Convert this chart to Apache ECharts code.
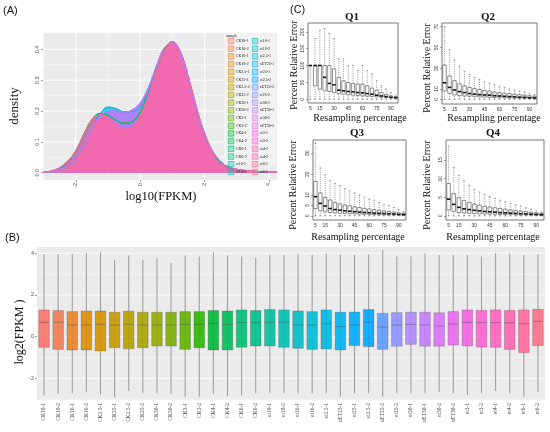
<!DOCTYPE html>
<html>
<head>
<meta charset="utf-8">
<script src="https://cdn.jsdelivr.net/npm/echarts@6/dist/echarts.min.js"></script>
<style>
html, body { margin: 0; padding: 0; background: #fff; }
#chart { width: 550px; height: 432px; }
</style>
</head>
<body>
<div id="chart"></div>
<script>
// samples, in factor order (legend in A, x axis in B)
var samples = ['CK10-1','CK10-2','CK16-1','CK16-2','CK2.5-1','CK25-1','CK2.5-2','CK25-2','CK30-1','CK30-2',
  'CK3-1','CK3-2','CK4-1','CK4-2','CK6-1','CK6-2','et10-1','et10-2','et16-1','et16-2','et2.5-1','xET25-1',
  'et25-1','et2.5-2','xET25-2','et25-2','et30-1','xET30-1','et30-2','xET30-2','et3-1','et3-2','et4-1','et4-2',
  'et6-1','et6-2'];

// (A) density of log10(FPKM)
var densX = [-3, -2.75, -2.5, -2.25, -2, -1.75, -1.5, -1.25, -1, -0.75, -0.5, -0.25, 0, 0.25, 0.5, 0.75,
  1, 1.25, 1.5, 1.75, 2, 2.25, 2.5, 2.75, 3, 3.5, 4, 4.25];
var densCK = [0.001, 0.005, 0.015, 0.035, 0.07, 0.124, 0.172, 0.192, 0.186, 0.17, 0.16, 0.165, 0.196, 0.256,
  0.33, 0.396, 0.422, 0.39, 0.306, 0.208, 0.125, 0.068, 0.035, 0.018, 0.01, 0.004, 0.002, 0.001];
var densCyan = [0.001, 0.003, 0.009, 0.022, 0.048, 0.092, 0.148, 0.19, 0.213, 0.208, 0.198, 0.198, 0.215, 0.262,
  0.334, 0.402, 0.425, 0.388, 0.3, 0.2, 0.12, 0.066, 0.034, 0.017, 0.01, 0.004, 0.002, 0.001];
var densPurple = [0.001, 0.003, 0.01, 0.024, 0.05, 0.095, 0.148, 0.182, 0.198, 0.2, 0.197, 0.203, 0.226, 0.274,
  0.345, 0.405, 0.42, 0.382, 0.298, 0.2, 0.122, 0.068, 0.036, 0.019, 0.011, 0.005, 0.002, 0.001];
var densEt = [0.002, 0.006, 0.017, 0.038, 0.072, 0.125, 0.172, 0.188, 0.178, 0.158, 0.142, 0.148, 0.185, 0.25,
  0.33, 0.398, 0.425, 0.392, 0.31, 0.212, 0.128, 0.07, 0.036, 0.019, 0.011, 0.005, 0.002, 0.001];
var densGroup = ['ck','ck','ck','ck','ck','ck','ck','ck','ck','ck','ck','ck','ck','ck','ck','ck','ck','ck',
  'cyan','cyan','cyan','cyan','purple','purple','purple','purple','purple','purple','purple','purple',
  'et','et','et','et','et','et'];
var densXTicks = [-2, 0, 2, 4];
var densXMinor = [-3, -1, 1, 3];
var densYTicks = [0, 0.1, 0.2, 0.3, 0.4];
var densYMinor = [0.05, 0.15, 0.25, 0.35];

// (B) log2(FPKM) boxplots
var bMin = [-2.83,-2.75,-2.72,-2.67,-2.77,-2.91,-2.61,-2.72,-2.72,-2.75,-2.88,-2.88,-2.75,-2.85,-2.83,-2.72,-2.69,
  -2.72,-2.72,-2.72,-2.72,-2.88,-2.72,-2.72,-2.88,-2.72,-2.72,-2.72,-2.64,-2.72,-2.8,-2.72,-2.61,-2.72,-2.88,-2.64];
var bQ1 = [-0.51,-0.61,-0.64,-0.64,-0.69,-0.53,-0.58,-0.53,-0.45,-0.45,-0.61,-0.54,-0.64,-0.64,-0.51,-0.45,-0.45,
  -0.51,-0.56,-0.61,-0.59,-0.64,-0.43,-0.48,-0.61,-0.46,-0.37,-0.46,-0.46,-0.4,-0.45,-0.5,-0.51,-0.61,-0.77,-0.43];
var bMed = [0.69,0.69,0.56,0.56,0.59,0.56,0.59,0.56,0.56,0.56,0.59,0.59,0.64,0.59,0.67,0.67,0.69,
  0.69,0.56,0.56,0.62,0.48,0.56,0.69,0.46,0.56,0.59,0.56,0.51,0.61,0.69,0.67,0.67,0.66,0.62,0.74];
var bQ3 = [1.28,1.25,1.2,1.23,1.23,1.17,1.22,1.17,1.17,1.17,1.2,1.2,1.25,1.23,1.28,1.25,1.3,
  1.28,1.23,1.2,1.28,1.17,1.18,1.3,1.12,1.15,1.17,1.17,1.14,1.2,1.28,1.26,1.28,1.26,1.28,1.31];
var bMax = [3.97,3.97,3.97,4.03,4.05,3.68,3.89,3.68,3.76,3.55,3.89,3.84,4.05,3.89,3.84,3.79,3.92,
  3.92,4.0,3.92,4.0,3.95,3.92,3.95,4.16,3.84,3.84,4.0,3.92,3.92,3.92,3.84,4.0,4.0,3.92,3.95];
var bYTicks = [-2, 0, 2, 4];
var bYMinor = [-3, -1, 1, 3];

// (C) percent relative error vs resampling percentage: [min, q1, median, q3, max]
var resampPct = [5, 10, 15, 20, 25, 30, 35, 40, 45, 50, 55, 60, 65, 70, 75, 80, 85, 90, 95];
var pctLabels = [5, 15, 30, 45, 60, 75, 90];
var q1Stats = [[0,100,100,100,100],[0,40,100,100,180],[0,30,100,100,205],[0,25,65,100,210],[0,23,47,100,195],
  [0,20,43,90,180],[0,17,27,65,120],[0,15,25,55,120],[0,13,23,50,100],[0,12,22,47,100],[0,11,20,45,85],
  [0,10,19,45,100],[0,9,17,40,85],[0,8,15,33,75],[0,7,12,27,55],[0,6,10,20,40],[0,5,8,15,30],[0,4,6,10,20],[0,3,5,7,13]];
var q2Stats = [[0,8,16,33,70],[0,5.8,11.5,22.5,48],[0,4.2,9,18,38],[0,3.6,7.5,15,32],[0,3.2,6.5,13,27],
  [0,2.9,5.6,11.5,24],[0,2.6,5,10.5,21],[0,2.3,4.5,9.5,19],[0,2.1,4.2,8.5,17],[0,1.9,3.9,8,15.5],[0,1.7,3.5,7,14],
  [0,1.5,3.2,6.5,12.5],[0,1.4,2.9,6,11.5],[0,1.2,2.6,5.5,10],[0,1.1,2.4,5,9],[0,1,2.1,4.5,8],[0,0.9,1.9,4,7],
  [0,0.8,1.6,3.5,5.5],[0,0.6,1.4,3,4.5]];
var q3Stats = [[0,3.5,9.2,16.5,35],[0,2.4,6,11,23],[0,1.9,4.7,8.9,19.7],[0,1.6,3.5,7.6,17],[0,1.4,3,6.5,15.5],
  [0,1.2,2.7,5.8,14.5],[0,1.1,2.4,5.2,13],[0,1,2.2,4.8,12],[0,0.9,2,4.3,11],[0,0.8,1.8,4,10],[0,0.7,1.6,3.6,9],
  [0,0.65,1.5,3.3,8],[0,0.6,1.3,3,7.5],[0,0.5,1.2,2.7,6.5],[0,0.45,1.1,2.4,5.5],[0,0.4,1,2.1,5],[0,0.35,0.85,1.8,4],
  [0,0.3,0.7,1.5,3],[0,0.25,0.6,1.2,2]];
var q4Stats = [[0,1.6,4.5,8.7,18.8],[0,1.2,3.1,6,13],[0,0.9,2.3,4.9,10.9],[0,0.8,1.9,4.1,9.5],[0,0.7,1.7,3.6,8.2],
  [0,0.6,1.5,3.2,7.2],[0,0.55,1.35,2.9,6.4],[0,0.5,1.2,2.6,5.8],[0,0.45,1.1,2.4,5.2],[0,0.4,1,2.2,4.7],
  [0,0.38,0.9,2,4.2],[0,0.35,0.82,1.8,3.8],[0,0.32,0.75,1.6,3.4],[0,0.3,0.68,1.45,3],[0,0.27,0.6,1.3,2.6],
  [0,0.24,0.53,1.15,2.2],[0,0.2,0.46,1,1.8],[0,0.17,0.4,0.85,1.4],[0,0.14,0.33,0.7,1]];
var q1Ticks = [0, 50, 100, 150, 200];
var q2Ticks = [0, 10, 30, 50, 70];
var q3Ticks = [0, 5, 10, 20, 30];
var q4Ticks = [0, 5, 10, 15];

var serif = 'Liberation Serif';
var sans = 'Liberation Sans';

// ggplot2 default hue palette (hcl, c = 100, l = 65)
function hcl(h, c, l) {
  var hr = h * Math.PI / 180;
  var U = c * Math.cos(hr), V = c * Math.sin(hr);
  var Y = l > 7.999592 ? Math.pow((l + 16) / 116, 3) : l / 903.3;
  var u = U / (13 * l) + 0.1978398, v = V / (13 * l) + 0.4683363;
  var X = 9 * Y * u / (4 * v);
  var Z = -X / 3 - 5 * Y + 3 * Y / v;
  function g(t) {
    t = t > 0.00304 ? 1.055 * Math.pow(t, 1 / 2.4) - 0.055 : 12.92 * t;
    return Math.round(255 * Math.max(0, Math.min(1, t)));
  }
  return [g(3.240479 * X - 1.537150 * Y - 0.498535 * Z),
          g(-0.969256 * X + 1.875992 * Y + 0.041556 * Z),
          g(0.055648 * X - 0.204043 * Y + 1.057311 * Z)];
}
function rgba(c, a) { return 'rgba(' + c[0] + ',' + c[1] + ',' + c[2] + ',' + a + ')'; }

var palette = samples.map(function (s, i) { return hcl((15 + 360 * i / samples.length) % 360, 100, 65); });
var curves = { ck: densCK, cyan: densCyan, purple: densPurple, et: densEt };

var myChart = echarts.init(document.getElementById('chart'));

var densSeries = samples.map(function (name, i) {
  var ys = curves[densGroup[i]];
  return {
    type: 'line', name: name, xAxisIndex: 0, yAxisIndex: 0,
    data: densX.map(function (x, j) { return [x, ys[j]]; }),
    smooth: 0.4, symbol: 'none', silent: true,
    lineStyle: { width: 0.5, color: rgba(palette[i], 0.8) },
    areaStyle: { color: rgba(palette[i], 1), opacity: 0.28 },
    z: 3
  };
});

function legendItems(names, offset) {
  return names.map(function (n, k) {
    var c = palette[k + offset];
    return { name: n, icon: 'rect', itemStyle: { color: rgba(c, 0.35), borderColor: rgba(c, 1), borderWidth: 0.6 } };
  });
}

function statsData(stats) {
  return stats.map(function (s, i) { return [i, s[0], s[1], s[2], s[3], s[4]]; });
}
function lineData(values, width) {
  return values.map(function (v) { return [v, width]; });
}

// panel background plus white grid lines (ggplot theme_grey)
function gridLines(hVals, vVals, xRef, yRef) {
  return function (params, api) {
    if (params.dataIndex > 0) return null;
    var cs = params.coordSys;
    var kids = [{ type: 'rect', shape: { x: cs.x, y: cs.y, width: cs.width, height: cs.height }, style: { fill: '#EBEBEB' } }];
    hVals.forEach(function (d) {
      var y = api.coord([xRef, d[0]])[1];
      kids.push({ type: 'line', shape: { x1: cs.x, y1: y, x2: cs.x + cs.width, y2: y }, style: { stroke: '#fff', lineWidth: d[1] } });
    });
    vVals.forEach(function (d) {
      var x = api.coord([d[0], yRef])[0];
      kids.push({ type: 'line', shape: { x1: x, y1: cs.y, x2: x, y2: cs.y + cs.height }, style: { stroke: '#fff', lineWidth: d[1] } });
    });
    return { type: 'group', children: kids };
  };
}

// base R style boxplot: dashed whiskers, white box, thick median
function rBox(params, api) {
  var x = api.value(0);
  var pMin = api.coord([x, api.value(1)]);
  var pQ1 = api.coord([x, api.value(2)]);
  var pMed = api.coord([x, api.value(3)]);
  var pQ3 = api.coord([x, api.value(4)]);
  var pMax = api.coord([x, api.value(5)]);
  var w = api.size([1, 0])[0] * 0.7;
  var cx = pMed[0];
  var dash = { stroke: '#555', lineWidth: 0.6, lineDash: [1, 1.2] };
  return { type: 'group', children: [
    { type: 'line', shape: { x1: cx, y1: pMin[1], x2: cx, y2: pQ1[1] }, style: dash },
    { type: 'line', shape: { x1: cx, y1: pQ3[1], x2: cx, y2: pMax[1] }, style: dash },
    { type: 'line', shape: { x1: cx - w / 4, y1: pMax[1], x2: cx + w / 4, y2: pMax[1] }, style: { stroke: '#555', lineWidth: 0.6 } },
    { type: 'line', shape: { x1: cx - w / 4, y1: pMin[1], x2: cx + w / 4, y2: pMin[1] }, style: { stroke: '#555', lineWidth: 0.6 } },
    { type: 'rect', shape: { x: cx - w / 2, y: pQ3[1], width: w, height: pQ1[1] - pQ3[1] },
      style: { fill: '#fff', stroke: '#444', lineWidth: 0.6 } },
    { type: 'line', shape: { x1: cx - w / 2, y1: pMed[1], x2: cx + w / 2, y2: pMed[1] }, style: { stroke: '#111', lineWidth: 1.6 } }
  ] };
}

// ggplot style boxplot for panel B
function ggBox(params, api) {
  var x = api.value(0);
  var pMin = api.coord([x, api.value(1)]);
  var pQ1 = api.coord([x, api.value(2)]);
  var pMed = api.coord([x, api.value(3)]);
  var pQ3 = api.coord([x, api.value(4)]);
  var pMax = api.coord([x, api.value(5)]);
  var w = api.size([1, 0])[0] * 0.75;
  var cx = pMed[0];
  var c = palette[params.dataIndex];
  return { type: 'group', children: [
    { type: 'line', shape: { x1: cx, y1: pMin[1], x2: cx, y2: pMax[1] }, style: { stroke: '#a0a0a0', lineWidth: 1.1 } },
    { type: 'rect', shape: { x: cx - w / 2, y: pQ3[1], width: w, height: pQ1[1] - pQ3[1] },
      style: { fill: rgba(c, 0.9), stroke: 'rgba(90,90,90,0.45)', lineWidth: 0.7 } },
    { type: 'line', shape: { x1: cx - w / 2, y1: pMed[1], x2: cx + w / 2, y2: pMed[1] }, style: { stroke: 'rgba(70,70,70,0.45)', lineWidth: 0.9 } }
  ] };
}

var ggText = { color: '#4D4D4D', fontSize: 5.5, fontFamily: sans };
var rText = { color: '#333', fontSize: 5, fontFamily: sans };
var noLine = { show: false, onZero: false };

function qAxes(gridIndex, min, max, ticks) {
  return {
    x: {
      type: 'category', gridIndex: gridIndex, data: resampPct, boundaryGap: true,
      axisLine: noLine,
      axisTick: { interval: 0, length: 2, alignWithLabel: true, lineStyle: { color: '#444', width: 0.5 } },
      axisLabel: Object.assign({ margin: 3, interval: function (i, v) { return pctLabels.indexOf(+v) >= 0; } }, rText),
      splitLine: { show: false }
    },
    y: {
      type: 'value', gridIndex: gridIndex, min: min, max: max,
      axisLine: noLine,
      axisTick: { show: true, length: 2, customValues: ticks, lineStyle: { color: '#444', width: 0.5 } },
      axisLabel: Object.assign({ rotate: 90, margin: 3, customValues: ticks }, rText),
      splitLine: { show: false }
    }
  };
}

var qa1 = qAxes(1, -11, 226, q1Ticks);
var qa2 = qAxes(2, -4.5, 73.6, q2Ticks);
var qa3 = qAxes(3, -2, 36.4, q3Ticks);
var qa4 = qAxes(4, -1.1, 20.4, q4Ticks);

var qFrame = { show: true, backgroundColor: '#fff', borderColor: '#555', borderWidth: 0.8 };

function label(text, x, y, size, family, opts) {
  opts = opts || {};
  return {
    type: 'text', x: x, y: y, rotation: opts.rot || 0, z: 10,
    style: { text: text, font: (opts.bold ? 'bold ' : '') + size + 'px "' + family + '"',
      fill: opts.color || '#111', align: opts.align || 'center', verticalAlign: 'middle' }
  };
}
var up = Math.PI / 2;

var option = {
  animation: false,
  backgroundColor: '#fff',
  grid: [
    { left: 43, top: 33, width: 234, height: 147, show: false },
    Object.assign({ left: 308, top: 23, width: 90, height: 80 }, qFrame),
    Object.assign({ left: 442, top: 23, width: 95, height: 81 }, qFrame),
    Object.assign({ left: 313, top: 140, width: 93, height: 80 }, qFrame),
    Object.assign({ left: 446, top: 140, width: 98, height: 80 }, qFrame),
    { left: 37, top: 247, width: 508, height: 153, show: false }
  ],
  xAxis: [
    { type: 'value', gridIndex: 0, min: -3.02, max: 4.25,
      axisLine: noLine,
      axisTick: { length: 2, customValues: densXTicks, lineStyle: { color: '#333', width: 0.5 } },
      axisLabel: Object.assign({ rotate: 90, margin: 3, customValues: densXTicks }, ggText),
      splitLine: { show: false } },
    qa1.x, qa2.x, qa3.x, qa4.x,
    { type: 'category', gridIndex: 5, data: samples, boundaryGap: true,
      axisLine: noLine,
      axisTick: { interval: 0, alignWithLabel: true, length: 2, lineStyle: { color: '#333', width: 0.5 } },
      axisLabel: { interval: 0, rotate: 90, margin: 3, fontSize: 5.5, fontFamily: serif, color: '#4D4D4D' },
      splitLine: { show: false } }
  ],
  yAxis: [
    { type: 'value', gridIndex: 0, min: -0.0237, max: 0.453,
      axisLine: noLine,
      axisTick: { show: true, length: 2, customValues: densYTicks, lineStyle: { color: '#333', width: 0.5 } },
      axisLabel: Object.assign({ rotate: 90, margin: 3, customValues: densYTicks,
        formatter: function (v) { return v.toFixed(1); } }, ggText),
      splitLine: { show: false } },
    qa1.y, qa2.y, qa3.y, qa4.y,
    { type: 'value', gridIndex: 5, min: -3.04, max: 4.3,
      axisLine: noLine,
      axisTick: { show: true, length: 2, customValues: bYTicks, lineStyle: { color: '#333', width: 0.5 } },
      axisLabel: Object.assign({ margin: 3, customValues: bYTicks }, ggText),
      splitLine: { show: false } }
  ],
  legend: [
    { data: legendItems(samples.slice(0, 18), 0), orient: 'vertical', left: 228, top: 38, padding: 0, z: 6,
      itemWidth: 5.5, itemHeight: 5.5, itemGap: 1.6, selectedMode: false,
      textStyle: { fontSize: 4, lineHeight: 5.5, fontFamily: serif, color: '#222', padding: [0, 0, 0, -3] } },
    { data: legendItems(samples.slice(18), 18), orient: 'vertical', left: 252, top: 38, padding: 0, z: 6,
      itemWidth: 5.5, itemHeight: 5.5, itemGap: 1.6, selectedMode: false,
      textStyle: { fontSize: 4, lineHeight: 5.5, fontFamily: serif, color: '#222', padding: [0, 0, 0, -3] } }
  ],
  graphic: [
    { type: 'rect', z: 5, shape: { x: 224, y: 33.5, width: 52, height: 131 }, style: { fill: '#F2F2F2' } },
    label('sample', 226, 36, 4, serif, { align: 'left', color: '#222' }),
    label('(A)', 3, 11, 11, sans, { align: 'left' }),
    label('(B)', 5, 238, 11, sans, { align: 'left' }),
    label('(C)', 290, 10, 11, sans, { align: 'left' }),
    label('density', 15, 106, 13, serif, { rot: up }),
    label('log10(FPKM)', 161, 197, 12.5, serif),
    label('log2(FPKM )', 20, 332, 12, serif, { rot: up }),
    label('Q1', 352, 17, 11, serif, { bold: true }),
    label('Q2', 488, 17, 11, serif, { bold: true }),
    label('Q3', 357, 133, 11, serif, { bold: true }),
    label('Q4', 493, 133, 11, serif, { bold: true }),
    label('Percent Relative Error', 294, 65, 10, serif, { rot: up }),
    label('Percent Relative Error', 427, 68, 10, serif, { rot: up }),
    label('Percent Relative Error', 293, 185, 10, serif, { rot: up }),
    label('Percent Relative Error', 427, 185, 10, serif, { rot: up }),
    label('Resampling percentage', 360, 118, 10, serif),
    label('Resampling percentage', 494, 118, 10, serif),
    label('Resampling percentage', 358, 237, 10, serif),
    label('Resampling percentage', 493, 237, 10, serif)
  ],
  series: [
    { type: 'custom', xAxisIndex: 0, yAxisIndex: 0, z: 2, silent: true, clip: false,
      renderItem: gridLines(lineData(densYMinor, 0.5).concat(lineData(densYTicks, 1)),
        lineData(densXMinor, 0.5).concat(lineData(densXTicks, 1)), 0, 0.2),
      data: [[0, 0.2]] },
    { type: 'custom', xAxisIndex: 5, yAxisIndex: 5, z: 2, silent: true, clip: false,
      renderItem: gridLines(lineData(bYMinor, 0.5).concat(lineData(bYTicks, 1)), [], 0, 0),
      data: [[0, 0]] }
  ].concat(densSeries, [
    { type: 'custom', xAxisIndex: 1, yAxisIndex: 1, renderItem: rBox, data: statsData(q1Stats), silent: true },
    { type: 'custom', xAxisIndex: 2, yAxisIndex: 2, renderItem: rBox, data: statsData(q2Stats), silent: true },
    { type: 'custom', xAxisIndex: 3, yAxisIndex: 3, renderItem: rBox, data: statsData(q3Stats), silent: true },
    { type: 'custom', xAxisIndex: 4, yAxisIndex: 4, renderItem: rBox, data: statsData(q4Stats), silent: true },
    { type: 'custom', xAxisIndex: 5, yAxisIndex: 5, renderItem: ggBox, silent: true, z: 3,
      data: samples.map(function (s, i) { return [i, bMin[i], bQ1[i], bMed[i], bQ3[i], bMax[i]]; }) }
  ])
};

myChart.setOption(option);
</script>
</body>
</html>
